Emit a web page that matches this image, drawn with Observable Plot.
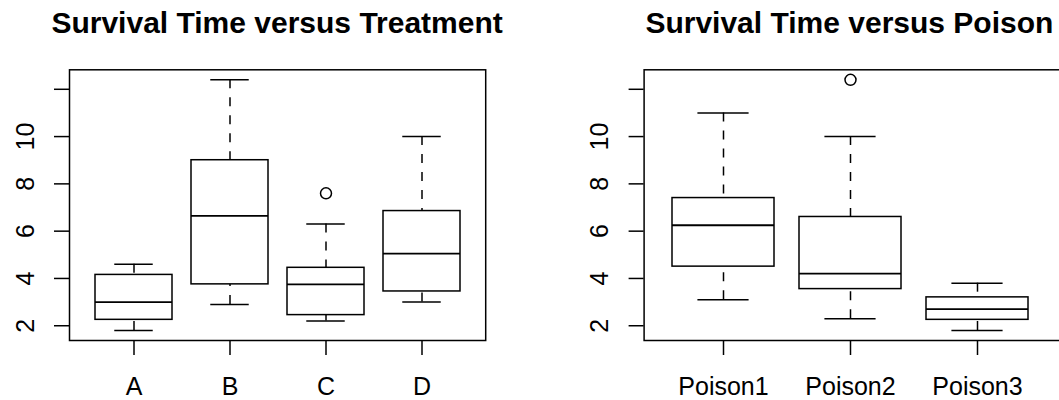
<!DOCTYPE html>
<html><head><meta charset="utf-8">
<script src="https://cdn.jsdelivr.net/npm/d3@7"></script>
<script src="https://cdn.jsdelivr.net/npm/@observablehq/plot@0.6"></script>
<style>
html,body{margin:0;padding:0;background:#fff;}
#wrap{position:relative;width:1059px;height:400px;overflow:hidden;font-family:"Liberation Sans",Arial,sans-serif;background:#fff;}
.panel{position:absolute;top:0;}
.panel svg{max-width:none;display:block;}
.title{position:absolute;top:8px;font-weight:bold;font-size:30px;line-height:30px;white-space:nowrap;transform:translateX(-50%);color:#000;z-index:2;}
</style></head><body><div id="wrap"></div>
<script>
// ---- data (survival time, boxplot statistics) ----
const treatments = ["A", "B", "C", "D"];
const tLow    = [1.8, 2.9, 2.2, 3.0];
const tQ1     = [2.25, 3.75, 2.45, 3.45];
const tMedian = [3.0, 6.65, 3.75, 5.05];
const tQ3     = [4.15, 9.0, 4.45, 6.85];
const tHigh   = [4.6, 12.4, 6.3, 10.0];
const tOutGroup = ["C"];
const tOutValue = [7.6];

const poisons = ["Poison1", "Poison2", "Poison3"];
const pLow    = [3.1, 2.3, 1.8];
const pQ1     = [4.5, 3.55, 2.25];
const pMedian = [6.25, 4.2, 2.7];
const pQ3     = [7.4, 6.6, 3.2];
const pHigh   = [11.0, 10.0, 3.8];
const pOutGroup = ["Poison2"];
const pOutValue = [12.4];

const yTicks  = [2, 4, 6, 8, 10, 12];
const yLabels = [2, 4, 6, 8, 10];

const titles = ["Survival Time versus Treatment", "Survival Time versus Poison"];

const wrap = document.getElementById("wrap");
const FONT = "'Liberation Sans', Arial, sans-serif";
const LW = 1.5;

function panel({groups, low, q1, med, q3, high, outG, outV, title, left, width, marginLeft, marginRight, xRange}) {
  const rows = groups.map((g, i) => ({group: g, low: low[i], q1: q1[i], med: med[i], q3: q3[i], high: high[i]}));
  const outs = outG.map((g, i) => ({group: g, value: outV[i]}));
  const all = [...low, ...high, ...outV];
  const lo = d3.min(all), hi = d3.max(all), pad = (hi - lo) * 0.04;
  const n = groups.length;
  const paddingOuter = 0.1 + 0.04 * n;
  const step = (xRange[1] - xRange[0]) / (n - 0.2 + 2 * paddingOuter);
  const bw = step * 0.8;
  const plot = Plot.plot({
    width, height: 400,
    marginLeft, marginRight, marginTop: 69.3, marginBottom: 60,
    style: {fontFamily: FONT, color: "#000", background: "transparent", overflow: "visible"},
    x: {type: "band", domain: groups, range: xRange, paddingInner: 0.2, paddingOuter, label: null},
    y: {domain: [lo - pad, hi + pad], label: null},
    marks: [
      Plot.ruleX(rows, {x: "group", y1: "high", y2: "q3", stroke: "#000", strokeWidth: LW, strokeDasharray: "9,9"}),
      Plot.ruleX(rows, {x: "group", y1: "low", y2: "q1", stroke: "#000", strokeWidth: LW, strokeDasharray: "9,9"}),
      Plot.tickY(rows, {x: "group", y: "high", stroke: "#000", strokeWidth: LW, insetLeft: bw / 4, insetRight: bw / 4}),
      Plot.tickY(rows, {x: "group", y: "low", stroke: "#000", strokeWidth: LW, insetLeft: bw / 4, insetRight: bw / 4}),
      Plot.barY(rows, {x: "group", y1: "q1", y2: "q3", fill: "#fff", stroke: "#000", strokeWidth: LW, inset: 0}),
      Plot.tickY(rows, {x: "group", y: "med", stroke: "#000", strokeWidth: 1.8}),
      Plot.dot(outs, {x: "group", y: "value", r: 5.5, stroke: "#000", fill: "none", strokeWidth: LW}),
      Plot.frame({stroke: "#000", strokeWidth: LW}),
      Plot.axisY({ticks: yTicks, tickSize: 15, tickFormat: () => "", stroke: "#000", strokeWidth: LW, label: null}),
      Plot.text(yLabels, {y: d => d, text: d => String(d), frameAnchor: "left", dx: -44, rotate: -90,
        lineAnchor: "middle", textAnchor: "middle", fontSize: 25, fill: "#000"}),
      Plot.axisX({tickSize: 15, tickPadding: 21.7, fontSize: 25, stroke: "#000", strokeWidth: LW, fill: "#000", label: null})
    ]
  });
  const div = document.createElement("div");
  div.className = "panel";
  div.style.left = left + "px";
  div.style.width = width + "px";
  div.appendChild(plot);
  wrap.appendChild(div);
  const t = document.createElement("div");
  t.className = "title";
  t.textContent = title;
  t.style.left = (left + (xRange[0] + xRange[1]) / 2) + "px";
  wrap.appendChild(t);
}

panel({groups: treatments, low: tLow, q1: tQ1, med: tMedian, q3: tQ3, high: tHigh, outG: tOutGroup, outV: tOutValue,
  title: titles[0], left: 0, width: 530, marginLeft: 69, marginRight: 44.8, xRange: [69, 485.2]});
panel({groups: poisons, low: pLow, q1: pQ1, med: pMedian, q3: pQ3, high: pHigh, outG: pOutGroup, outV: pOutValue,
  title: titles[1], left: 530, width: 540, marginLeft: 113.6, marginRight: 0, xRange: [113.6, 525.2]});
</script></body></html>
